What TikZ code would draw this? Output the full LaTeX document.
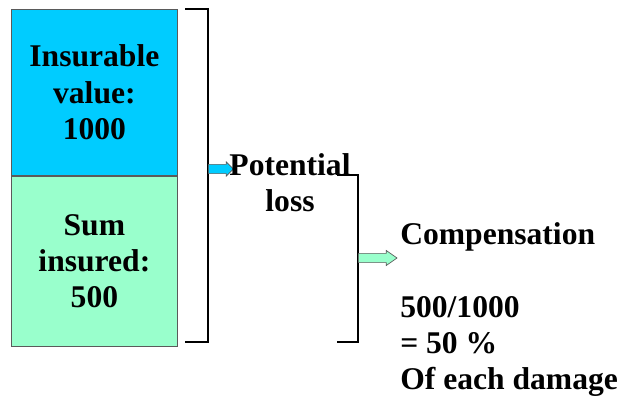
\documentclass[tikz,border=0pt]{standalone}
\usepackage{fontspec}
\setmainfont{Liberation Serif}
\usetikzlibrary{positioning, shapes.arrows, calc}
\definecolor{valueblue}{RGB}{0, 204, 255}
\definecolor{sumgreen}{RGB}{153, 255, 204}
\definecolor{edgegray}{RGB}{90, 90, 90}

\begin{document}
\begin{tikzpicture}[
    x=0.75pt, y=-0.75pt,
    bigtext/.style={font=\fontsize{23.7}{27.2}\selectfont\bfseries},
    amountblock/.style={
        rectangle,
        draw=edgegray,
        line width=0.6pt,
        minimum width=124.5pt,
        inner sep=0pt,
        align=center,
        bigtext
    },
    bracketline/.style={draw=black, line width=0.8pt},
    blockarrow/.style={
        single arrow,
        draw=edgegray,
        line width=0.5pt,
        inner xsep=0pt,
        inner ysep=3.2pt,
        anchor=tail
    }
]
    \useasboundingbox (0,0) rectangle (627,406);

    % --- Left: the two amounts ---
    \node[amountblock, fill=valueblue, minimum height=124.5pt, anchor=north west]
        (value) at (11,9) {Insurable\\value:\\1000};
    \node[amountblock, fill=sumgreen, minimum height=127.5pt, below=0pt of value]
        (sum) {Sum\\insured:\\500};

    % --- Brackets ---
    \coordinate (b1top) at (208,9);
    \coordinate (b1bot) at (208,342);
    \draw[bracketline] ($(b1top)+(-23,0)$) -- (b1top) -- (b1bot) -- ($(b1bot)+(-23,0)$);

    \coordinate (b2top) at (358,175);
    \coordinate (b2bot) at (358,342);
    \draw[bracketline] ($(b2top)+(-21,0)$) -- (b2top) -- (b2bot) -- ($(b2bot)+(-21,0)$);

    % --- Arrows ---
    \node[blockarrow, fill=valueblue, minimum height=18.8pt,
          single arrow head extend=1.9pt] (arrowone) at (208,169) {};
    \node[blockarrow, fill=sumgreen, minimum height=29pt,
          single arrow head extend=2.2pt, single arrow tip angle=70] (arrowtwo) at (358,258) {};

    % --- Texts ---
    \node[bigtext, align=center, inner sep=0pt] (loss) at (290,182.5) {Potential\\loss};
    \node[bigtext, align=left, inner sep=0pt, anchor=north west] (comp) at (400,222.5)
        {Compensation\\[27.2pt]500/1000\\= 50 \%\\Of each damage};

\end{tikzpicture}
\end{document}
